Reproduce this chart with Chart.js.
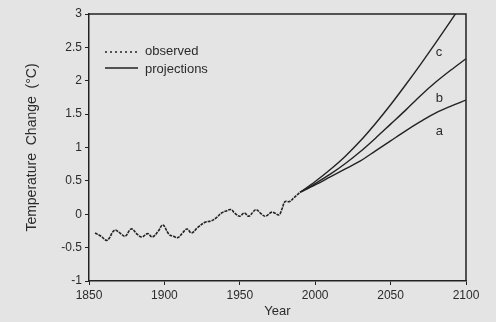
<!DOCTYPE html>
<html>
<head>
<meta charset="utf-8">
<script src="https://cdn.jsdelivr.net/npm/chart.js@4/dist/chart.umd.min.js"></script>
<style>
  html, body { margin: 0; padding: 0; background: #e4e4e4; }
  #wrap { width: 496px; height: 322px; }
</style>
</head>
<body>
<div id="wrap"><canvas id="chart" width="496" height="322"></canvas></div>
<script>
// observed record (smoothed)
const obsYears = [1854, 1858, 1862, 1867, 1871, 1874, 1878, 1882, 1885, 1889, 1892, 1896, 1899,
                  1903, 1906, 1909, 1912, 1915, 1918, 1922, 1927, 1931, 1934, 1938, 1941, 1944,
                  1947, 1950, 1953, 1956, 1959, 1961, 1964, 1967, 1971, 1973, 1976, 1978, 1980,
                  1983, 1986, 1989, 1990];
const obsTemps = [-0.28, -0.33, -0.39, -0.24, -0.29, -0.33, -0.22, -0.30, -0.34, -0.29, -0.34, -0.25, -0.16,
                  -0.30, -0.33, -0.35, -0.28, -0.22, -0.28, -0.20, -0.12, -0.10, -0.06, 0.02, 0.05, 0.07,
                  0.01, -0.03, 0.02, -0.03, 0.04, 0.07, 0.01, -0.03, 0.03, 0.02, -0.01, 0.08, 0.19,
                  0.19, 0.25, 0.31, 0.33];

// projections, scenarios a / b / c
const projYears = [1990, 2000, 2010, 2020, 2030, 2040, 2050, 2060, 2070, 2080, 2090, 2100];
const projA = [0.33, 0.44, 0.56, 0.68, 0.80, 0.95, 1.10, 1.25, 1.39, 1.52, 1.62, 1.71];
const projB = [0.33, 0.46, 0.60, 0.76, 0.94, 1.14, 1.35, 1.56, 1.78, 1.98, 2.16, 2.33];
const projC = [0.33, 0.49, 0.67, 0.87, 1.10, 1.36, 1.64, 1.94, 2.25, 2.57, 2.90, 3.24];

// curve tags
const tagNames = ['a', 'b', 'c'];
const tagYears = [2080, 2080, 2080];
const tagTemps = [1.24, 1.74, 2.43];

const xTicks = [1850, 1900, 1950, 2000, 2050, 2100];
const yTicks = [-1, -0.5, 0, 0.5, 1, 1.5, 2, 2.5, 3];

const ink = '#222';
const textInk = '#2b2b2b';
const font = 'Liberation Sans, Arial, sans-serif';

function pts(xs, ys) {
    return xs.map(function (x, i) { return { x: x, y: ys[i] }; });
}

const projStyle = {
    borderColor: ink,
    borderWidth: 1.4,
    pointRadius: 0,
    cubicInterpolationMode: 'monotone',
    fill: false
};

// frame, tags and in-plot legend
const extras = {
    id: 'extras',
    afterDatasetsDraw: function (chart) {
        const ctx = chart.ctx;
        const a = chart.chartArea;
        const xs = chart.scales.x, ys = chart.scales.y;
        ctx.save();
        ctx.strokeStyle = ink;
        ctx.lineWidth = 1.5;
        ctx.beginPath();
        ctx.moveTo(a.left, a.top);
        ctx.lineTo(a.right, a.top);
        ctx.lineTo(a.right, a.bottom);
        ctx.stroke();

        ctx.fillStyle = textInk;
        ctx.font = '13px ' + font;
        ctx.textBaseline = 'middle';
        ctx.textAlign = 'left';
        tagNames.forEach(function (t, i) {
            ctx.fillText(t, xs.getPixelForValue(tagYears[i]), ys.getPixelForValue(tagTemps[i]));
        });

        // legend
        const lx = a.left + 16, ly = a.top + 38;
        ctx.lineWidth = 1.3;
        ctx.setLineDash([2, 3]);
        ctx.beginPath();
        ctx.moveTo(lx, ly); ctx.lineTo(lx + 32, ly);
        ctx.stroke();
        ctx.setLineDash([]);
        ctx.beginPath();
        ctx.moveTo(lx, ly + 16); ctx.lineTo(lx + 33, ly + 16);
        ctx.stroke();
        ctx.fillText(chart.data.datasets[0].label, lx + 40, ly - 1);
        ctx.fillText(chart.data.datasets[1].label, lx + 40, ly + 17);
        ctx.restore();
    }
};

new Chart(document.getElementById('chart'), {
    type: 'line',
    data: {
        datasets: [
            {
                label: 'observed',
                data: pts(obsYears, obsTemps),
                borderColor: ink,
                borderWidth: 1.6,
                borderDash: [3, 1],
                pointRadius: 0,
                tension: 0.4,
                fill: false
            },
            Object.assign({ label: 'projections', data: pts(projYears, projA) }, projStyle),
            Object.assign({ label: 'b', data: pts(projYears, projB) }, projStyle),
            Object.assign({ label: 'c', data: pts(projYears, projC) }, projStyle)
        ]
    },
    options: {
        responsive: false,
        animation: false,
        devicePixelRatio: 1,
        layout: { padding: { top: 14, right: 30, left: 0, bottom: 0 } },
        plugins: {
            legend: { display: false },
            tooltip: { enabled: false }
        },
        scales: {
            x: {
                type: 'linear',
                min: 1850,
                max: 2100,
                afterBuildTicks: function (s) { s.ticks = xTicks.map(function (v) { return { value: v }; }); },
                afterFit: function (s) { s.height = 41; },
                grid: { drawOnChartArea: false, drawTicks: true, tickLength: 4, color: ink },
                border: { display: true, color: ink, width: 1.5 },
                ticks: {
                    color: textInk,
                    font: { family: font, size: 12 },
                    padding: 3,
                    maxRotation: 0,
                    callback: function (v) { return String(v); }
                },
                title: {
                    display: true,
                    text: 'Year',
                    color: textInk,
                    font: { family: font, size: 13 },
                    padding: { top: 0, bottom: 3 }
                }
            },
            y: {
                min: -1,
                max: 3,
                afterBuildTicks: function (s) { s.ticks = yTicks.map(function (v) { return { value: v }; }); },
                afterFit: function (s) { s.width = 89; },
                grid: { drawOnChartArea: false, drawTicks: true, tickLength: 4, color: ink },
                border: { display: true, color: ink, width: 1.5 },
                ticks: {
                    color: textInk,
                    font: { family: font, size: 12 },
                    padding: 3,
                    callback: function (v) { return String(v); }
                },
                title: {
                    display: true,
                    text: 'Temperature  Change  (°C)',
                    color: textInk,
                    font: { family: font, size: 14 },
                    padding: { top: 24, bottom: 0 }
                }
            }
        }
    },
    plugins: [extras]
});
</script>
</body>
</html>
